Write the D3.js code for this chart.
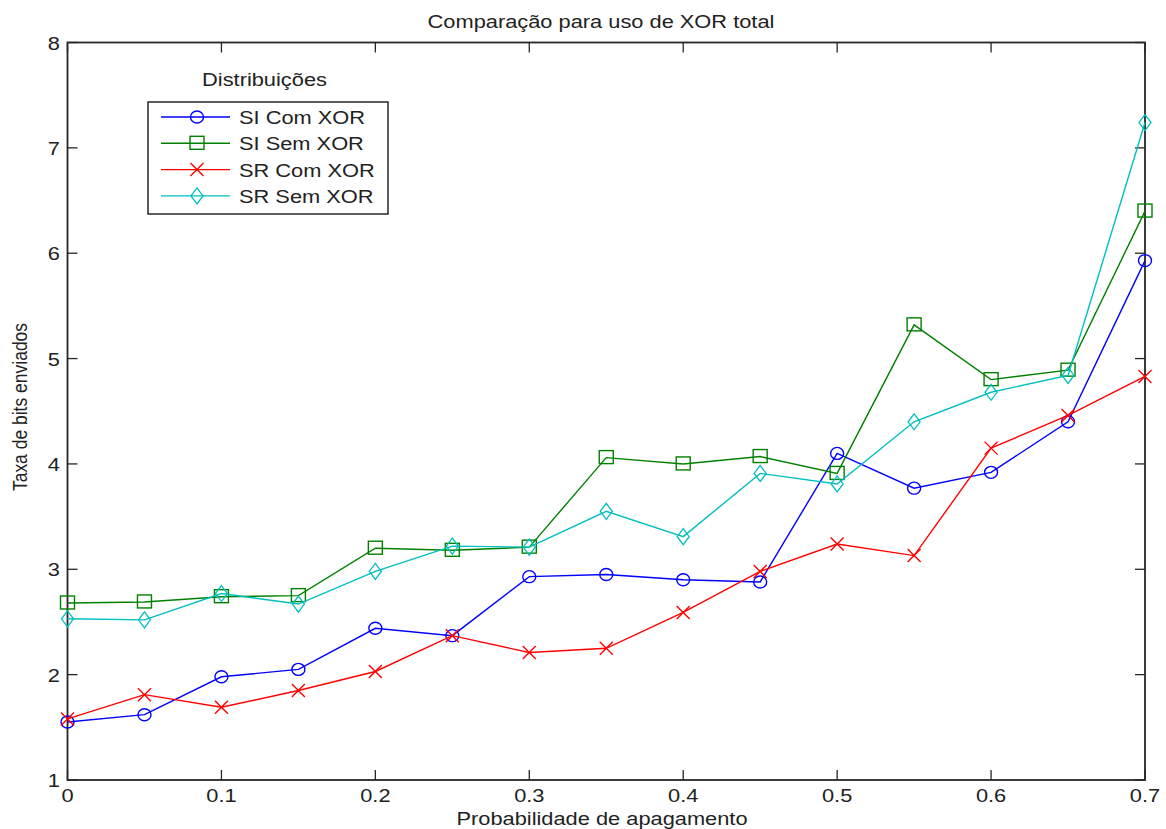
<!DOCTYPE html>
<html>
<head>
<meta charset="utf-8">
<script src="https://cdn.jsdelivr.net/npm/d3@7"></script>
<style>
  html, body { margin: 0; padding: 0; background: #fff; }
  svg { display: block; }
  text { font-family: "Liberation Sans", Arial, sans-serif; fill: #222; }
</style>
</head>
<body>
<svg id="chart" width="1166" height="829"></svg>
<script>
const xValues = [0, 0.05, 0.1, 0.15, 0.2, 0.25, 0.3, 0.35, 0.4, 0.45, 0.5, 0.55, 0.6, 0.65, 0.7];
const siComXor  = [1.55, 1.62, 1.98, 2.05, 2.44, 2.37, 2.93, 2.95, 2.90, 2.88, 4.10, 3.77, 3.92, 4.40, 5.93];
const siSemXor  = [2.68, 2.69, 2.74, 2.75, 3.20, 3.18, 3.21, 4.06, 4.00, 4.07, 3.91, 5.32, 4.80, 4.89, 6.40];
const srComXor  = [1.58, 1.81, 1.69, 1.85, 2.03, 2.37, 2.21, 2.25, 2.59, 2.98, 3.24, 3.13, 4.15, 4.46, 4.83];
const srSemXor  = [2.53, 2.52, 2.77, 2.67, 2.98, 3.22, 3.21, 3.55, 3.31, 3.91, 3.81, 4.40, 4.68, 4.84, 7.24];
const seriesNames = ["SI Com XOR", "SI Sem XOR", "SR Com XOR", "SR Sem XOR"];
const seriesColors = ["#0000ff", "#008000", "#ff0000", "#00bfbf"];
const seriesMarkers = ["circle", "square", "cross", "diamond"];
const xTicks = [0, 0.1, 0.2, 0.3, 0.4, 0.5, 0.6, 0.7];
const yTicks = [1, 2, 3, 4, 5, 6, 7, 8];
const titleText = "Comparação para uso de XOR total";
const xLabel = "Probabilidade de apagamento";
const yLabel = "Taxa de bits enviados";
const legendTitle = "Distribuições";

const seriesValues = [siComXor, siSemXor, srComXor, srSemXor];

const svg = d3.select("#chart");
const L = 67.5, R = 1145, T = 42.5, B = 780;
const x = d3.scaleLinear().domain([0, 0.7]).range([L, R]);
const y = d3.scaleLinear().domain([1, 8]).range([B, T]);

const axisColor = "#262626";
const tickLen = 10;
const SX = 1.18; // horizontal stretch of the reference's text

function stretchedText(parent, px, py, str, size, anchor) {
  return parent.append("text")
    .attr("transform", `translate(${px},${py}) scale(${SX},1)`)
    .attr("text-anchor", anchor || "start")
    .attr("font-size", size)
    .text(str);
}

// Ticks inside, on all four sides
const g = svg.append("g");
xTicks.forEach(t => {
  g.append("line").attr("x1", x(t)).attr("x2", x(t)).attr("y1", B).attr("y2", B - tickLen)
    .attr("stroke", axisColor).attr("stroke-width", 1.3);
  g.append("line").attr("x1", x(t)).attr("x2", x(t)).attr("y1", T).attr("y2", T + tickLen)
    .attr("stroke", axisColor).attr("stroke-width", 1.3);
  stretchedText(g, x(t), 802, d3.format("")(t), 18.5, "middle");
});
yTicks.forEach(t => {
  g.append("line").attr("x1", L).attr("x2", L + tickLen).attr("y1", y(t)).attr("y2", y(t))
    .attr("stroke", axisColor).attr("stroke-width", 1.3);
  g.append("line").attr("x1", R).attr("x2", R - tickLen).attr("y1", y(t)).attr("y2", y(t))
    .attr("stroke", axisColor).attr("stroke-width", 1.3);
  stretchedText(g, 60, y(t) + 7, String(t), 18.5, "end");
});

// Frame
svg.append("rect").attr("x", L).attr("y", T).attr("width", R - L).attr("height", B - T)
  .attr("fill", "none").attr("stroke", axisColor).attr("stroke-width", 1.8);

// Markers
function drawMarker(sel, type, cx, cy, color) {
  if (type === "circle") {
    sel.append("ellipse").attr("cx", cx).attr("cy", cy).attr("rx", 6.5).attr("ry", 6)
      .attr("fill", "none").attr("stroke", color).attr("stroke-width", 1.4);
  } else if (type === "square") {
    sel.append("rect").attr("x", cx - 7).attr("y", cy - 7).attr("width", 14).attr("height", 13)
      .attr("fill", "none").attr("stroke", color).attr("stroke-width", 1.4);
  } else if (type === "cross") {
    const s = 6.5;
    sel.append("path").attr("d", `M${cx - s},${cy - s}L${cx + s},${cy + s}M${cx - s},${cy + s}L${cx + s},${cy - s}`)
      .attr("stroke", color).attr("stroke-width", 1.4).attr("fill", "none");
  } else if (type === "diamond") {
    const w = 6, h = 8;
    sel.append("path").attr("d", `M${cx},${cy - h}L${cx + w},${cy}L${cx},${cy + h}L${cx - w},${cy}Z`)
      .attr("stroke", color).attr("stroke-width", 1.3).attr("fill", "none");
  }
}

const line = d3.line().x((d, i) => x(xValues[i])).y(d => y(d));
seriesValues.forEach((vals, k) => {
  const sg = svg.append("g");
  sg.append("path").attr("d", line(vals)).attr("fill", "none")
    .attr("stroke", seriesColors[k]).attr("stroke-width", 1.4);
  vals.forEach((v, i) => drawMarker(sg, seriesMarkers[k], x(xValues[i]), y(v), seriesColors[k]));
});

// Title and axis labels
stretchedText(svg, 601, 28, titleText, 18.5, "middle");
stretchedText(svg, 602, 825, xLabel, 18.5, "middle");
svg.append("text").attr("transform", "translate(27,407) rotate(-90) scale(1,1.18)").attr("text-anchor", "middle")
  .attr("font-size", 17.5).text(yLabel);

// Legend
const lg = svg.append("g");
stretchedText(lg, 264.5, 86, legendTitle, 18.5, "middle");
lg.append("rect").attr("x", 148).attr("y", 102).attr("width", 240).attr("height", 112)
  .attr("fill", "#fff").attr("stroke", axisColor).attr("stroke-width", 1.5);
seriesNames.forEach((name, k) => {
  const ly = 117 + k * 26.3;
  lg.append("line").attr("x1", 161).attr("x2", 230).attr("y1", ly).attr("y2", ly)
    .attr("stroke", seriesColors[k]).attr("stroke-width", 1.4);
  drawMarker(lg, seriesMarkers[k], 197, ly, seriesColors[k]);
  stretchedText(lg, 239, ly + 7, name, 18.5, "start");
});
</script>
</body>
</html>
